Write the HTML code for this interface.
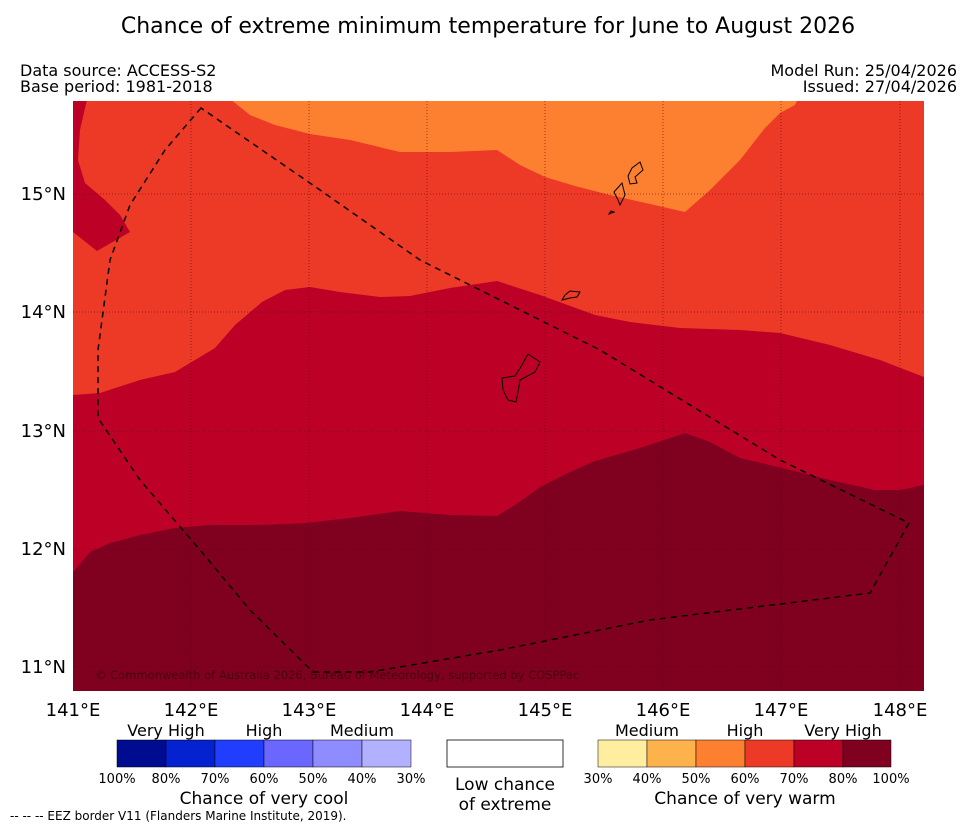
<!DOCTYPE html>
<html><head><meta charset="utf-8"><style>
body{margin:0;background:#fff;width:977px;height:827px;overflow:hidden;font-family:"Liberation Sans",sans-serif;}
svg text{font-family:"DejaVu Sans","Liberation Sans",sans-serif;}
</style></head><body>
<svg width="977" height="827" viewBox="0 0 977 827">
<text x="488" y="33" font-size="22" text-anchor="middle">Chance of extreme minimum temperature for June to August 2026</text>
<text x="20" y="76" font-size="16">Data source: ACCESS-S2</text>
<text x="20" y="92" font-size="16">Base period: 1981-2018</text>
<text x="957" y="76" font-size="16" text-anchor="end">Model Run: 25/04/2026</text>
<text x="957" y="92" font-size="16" text-anchor="end">Issued: 27/04/2026</text>
<defs><clipPath id="mc"><rect x="73" y="101" width="851" height="590"/></clipPath></defs>
<g clip-path="url(#mc)">
<rect x="73" y="101" width="851" height="590" fill="#ec3a26"/>
<polygon fill="#fd7f30" points="225,95 250,115 275,125 310,134 350,140 400,152 450,152 497,150 520,165 545,177 575,186 610,195 650,204 685,212 710,190 740,160 765,128 780,113 795,105 800,95"/>
<polygon fill="#bd0026" points="73,95 88,95 80,130 78,160 85,183 105,200 120,215 130,232 97,251 73,232"/>
<polygon fill="#bd0026" points="73,395 100,393 140,380 175,372 215,348 235,325 262,302 285,290 310,287 340,292 380,297 410,296 450,288 497,281 540,295 595,315 630,322 680,328 740,330 780,333 830,345 880,360 924,377 930,700 73,700"/>
<polygon fill="#800020" points="73,572 90,552 110,543 140,535 175,528 210,525 260,525 305,523 350,518 400,511 450,515 497,516 515,505 540,487 570,472 595,461 640,448 685,433 710,442 740,458 790,470 830,480 875,490 900,490 924,485 930,700 73,700"/>
<g stroke="#5a0010" stroke-width="0.8" stroke-dasharray="1,2" opacity="0.7">
<line x1="191" y1="101" x2="191" y2="691"/><line x1="309" y1="101" x2="309" y2="691"/><line x1="427" y1="101" x2="427" y2="691"/><line x1="545" y1="101" x2="545" y2="691"/><line x1="663" y1="101" x2="663" y2="691"/><line x1="781" y1="101" x2="781" y2="691"/><line x1="900" y1="101" x2="900" y2="691"/>
<line x1="73" y1="194" x2="924" y2="194"/><line x1="73" y1="312" x2="924" y2="312"/><line x1="73" y1="431" x2="924" y2="431"/><line x1="73" y1="549" x2="924" y2="549"/><line x1="73" y1="667" x2="924" y2="667"/>
</g>
<g fill="none" stroke="#000" stroke-width="1">
<polygon points="640,162 643,170 635,177 637,183 630,184 628,176 632,168"/>
<polygon points="622,183 625,195 620,205 618,200 614,192"/>
<polygon points="611,211 614,212 609,214"/>
<polygon points="565,295 570,291 580,292 577,297 570,298 562,300"/>
<polygon points="528,354 540,362 535,372 520,380 518,392 516,402 508,400 503,390 502,378 515,376 522,365"/>
</g>
<polygon fill="none" stroke="#000" stroke-width="1.5" stroke-dasharray="6,5" points="201,108 165,150 130,205 110,260 98,350 98,418 140,480 200,550 250,610 313,672 370,672 500,650 650,620 870,593 909,523 780,460 600,350 420,260 320,190"/>
<text x="95" y="679" font-size="11.5" fill="#3a0008" opacity="0.8">© Commonwealth of Australia 2026, Bureau of Meteorology, supported by COSPPac</text>
</g>
<g font-size="18">
<text x="73" y="716" text-anchor="middle">141°E</text><text x="191" y="716" text-anchor="middle">142°E</text><text x="309" y="716" text-anchor="middle">143°E</text><text x="427" y="716" text-anchor="middle">144°E</text><text x="545" y="716" text-anchor="middle">145°E</text><text x="663" y="716" text-anchor="middle">146°E</text><text x="781" y="716" text-anchor="middle">147°E</text><text x="900" y="716" text-anchor="middle">148°E</text>
</g>
<g font-size="18" text-anchor="end">
<text x="66" y="200">15°N</text><text x="66" y="318">14°N</text><text x="66" y="437">13°N</text><text x="66" y="555">12°N</text><text x="66" y="673">11°N</text>
</g>
<g>
<text x="166" y="736" font-size="16" text-anchor="middle">Very High</text><text x="264" y="736" font-size="16" text-anchor="middle">High</text><text x="362" y="736" font-size="16" text-anchor="middle">Medium</text>
<rect x="117" y="740" width="49" height="27" fill="#000c8f" stroke="#000" stroke-width="0.5"/>
<rect x="166" y="740" width="49" height="27" fill="#0522d0" stroke="#000" stroke-width="0.5"/>
<rect x="215" y="740" width="49" height="27" fill="#213dfe" stroke="#000" stroke-width="0.5"/>
<rect x="264" y="740" width="49" height="27" fill="#6a66fe" stroke="#000" stroke-width="0.5"/>
<rect x="313" y="740" width="49" height="27" fill="#8e8cff" stroke="#000" stroke-width="0.5"/>
<rect x="362" y="740" width="49" height="27" fill="#b2b1ff" stroke="#000" stroke-width="0.5"/>
<g font-size="13" text-anchor="middle"><text x="117" y="783">100%</text><text x="166" y="783">80%</text><text x="215" y="783">70%</text><text x="264" y="783">60%</text><text x="313" y="783">50%</text><text x="362" y="783">40%</text><text x="411" y="783">30%</text></g>
<text x="264" y="804" font-size="17" text-anchor="middle">Chance of very cool</text>
</g>
<g>
<rect x="447" y="740" width="116" height="27" fill="#fff" stroke="#000" stroke-width="0.8"/>
<text x="505" y="790" font-size="17" text-anchor="middle">Low chance</text><text x="505" y="810" font-size="17" text-anchor="middle">of extreme</text>
</g>
<g>
<text x="647" y="736" font-size="16" text-anchor="middle">Medium</text><text x="745" y="736" font-size="16" text-anchor="middle">High</text><text x="843" y="736" font-size="16" text-anchor="middle">Very High</text>
<rect x="598" y="740" width="49" height="27" fill="#ffeda0" stroke="#000" stroke-width="0.5"/>
<rect x="647" y="740" width="49" height="27" fill="#feb24c" stroke="#000" stroke-width="0.5"/>
<rect x="696" y="740" width="49" height="27" fill="#fd7f30" stroke="#000" stroke-width="0.5"/>
<rect x="745" y="740" width="49" height="27" fill="#ec3a26" stroke="#000" stroke-width="0.5"/>
<rect x="794" y="740" width="49" height="27" fill="#bd0026" stroke="#000" stroke-width="0.5"/>
<rect x="843" y="740" width="48" height="27" fill="#800020" stroke="#000" stroke-width="0.5"/>
<g font-size="13" text-anchor="middle"><text x="598" y="783">30%</text><text x="647" y="783">40%</text><text x="696" y="783">50%</text><text x="745" y="783">60%</text><text x="794" y="783">70%</text><text x="843" y="783">80%</text><text x="891" y="783">100%</text></g>
<text x="745" y="804" font-size="17" text-anchor="middle">Chance of very warm</text>
</g>
<text x="10" y="820" font-size="12">--  --  -- EEZ border V11 (Flanders Marine Institute, 2019).</text>
</svg>
</body></html>
